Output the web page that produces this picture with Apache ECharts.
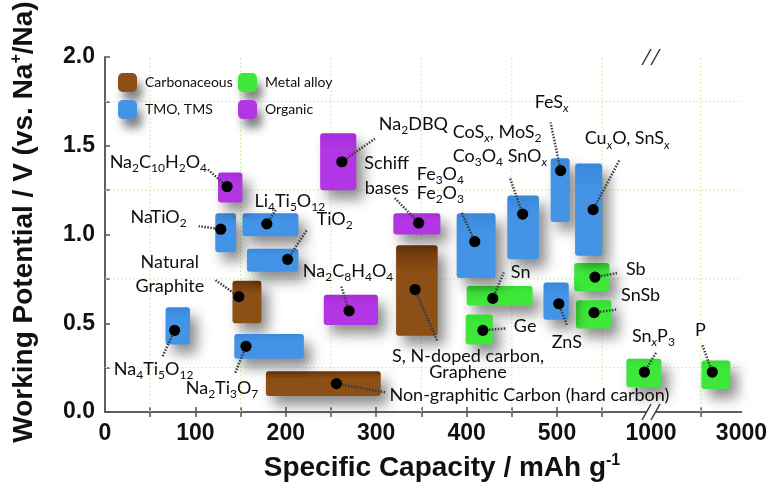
<!DOCTYPE html>
<html>
<head>
<meta charset="utf-8">
<script src="https://cdn.jsdelivr.net/npm/echarts@6/dist/echarts.min.js"></script>
<style>
  html, body { margin: 0; padding: 0; background: #fff; }
  #chart { width: 770px; height: 489px; }
</style>
</head>
<body>
<div id="chart"></div>
<script>
// ---- material classes ----
const groupNames = ['Carbonaceous', 'Metal alloy', 'TMO, TMS', 'Organic'];
const groupColors = ['#8c4f16', '#3de83a', '#4394e6', '#b236e4'];
const groupTops = ['#6a350b', '#34dc32', '#3a88dc', '#a82cd8'];

// ---- anode materials (rich-text markup: {s|..} subscript, {x|..} italic subscript) ----
const materials = [
  ['Na{s|2}C{s|10}H{s|2}O{s|4}'],
  ['NaTiO{s|2}'],
  ['Li{s|4}Ti{s|5}O{s|12}'],
  ['TiO{s|2}'],
  ['Natural', 'Graphite'],
  ['Na{s|4}Ti{s|5}O{s|12}'],
  ['Na{s|2}Ti{s|3}O{s|7}'],
  ['Non-graphitic Carbon (hard carbon)'],
  ['Na{s|2}C{s|8}H{s|4}O{s|4}'],
  ['Na{s|2}DBQ'],
  ['Schiff', 'bases'],
  ['S, N-doped carbon,', 'Graphene'],
  ['Fe{s|3}O{s|4}', 'Fe{s|2}O{s|3}'],
  ['CoS{x|x}, MoS{s|2}', 'Co{s|3}O{s|4} SnO{x|x}'],
  ['FeS{x|x}'],
  ['Cu{x|x}O, SnS{x|x}'],
  ['Sn'],
  ['Ge'],
  ['ZnS'],
  ['Sb'],
  ['SnSb'],
  ['Sn{x|x}P{s|3}'],
  ['P']
];
const materialGroup = [3, 2, 2, 2, 0, 2, 2, 0, 3, 3, 3, 0, 2, 2, 2, 2, 1, 1, 2, 1, 1, 1, 1];

// specific capacity range and typical value, mAh/g
const capLow  = [125, 122, 152, 157, 141,  67, 143, 178, 242, 238, 319, 322, 389, 445, 493, 520, 400, 399, 485, 519, 521, 773, 2016];
const capHigh = [152, 145, 214, 214, 173,  94, 220, 305, 302, 278, 371, 368, 432, 480, 514, 550, 473, 429, 513, 617, 635, 1209, 2727];
const capMid  = [135, 128, 179, 202, 148,  77, 156, 256, 270, 262, 347, 343, 409, 462, 504, 540, 429, 418, 502, 542, 541, 939, 2284];

// working potential range and typical value, V vs. Na+/Na
const potLow  = [1.18, 0.90, 0.99, 0.79, 0.50, 0.38, 0.30, 0.09, 0.49, 1.25, 1.00, 0.43, 0.755, 0.86, 1.07, 0.88, 0.60, 0.38, 0.52, 0.68, 0.47, 0.14, 0.13];
const potHigh = [1.35, 1.12, 1.12, 0.92, 0.74, 0.59, 0.44, 0.23, 0.66, 1.57, 1.12, 0.94, 1.12, 1.22, 1.43, 1.40, 0.71, 0.55, 0.73, 0.84, 0.63, 0.30, 0.29];
const potMid  = [1.27, 1.03, 1.06, 0.86, 0.65, 0.46, 0.37, 0.16, 0.57, 1.41, 1.065, 0.69, 0.96, 1.115, 1.36, 1.14, 0.64, 0.46, 0.61, 0.76, 0.56, 0.225, 0.225];

// ---- axis definitions ----
const capTicks = [50, 100, 150, 200, 250, 300, 350, 400, 450, 500, 550, 2000];
const capLabels = [0, 100, 200, 300, 400, 500, 1000, 3000];
const capGrid = [50, 150, 250, 350, 450, 550, 2000];
const potGrid = [0.25, 0.75, 1.25, 1.75];

// broken capacity axis: piecewise-linear map from capacity to axis position
const capKnots  = [0, 550, 1000, 2000, 3000];
const axisKnots = [0, 550, 604, 659, 704];
function capToAxis(c) {
  for (let k = 1; k < capKnots.length; k++) {
    if (c <= capKnots[k] || k === capKnots.length - 1) {
      const t = (c - capKnots[k - 1]) / (capKnots[k] - capKnots[k - 1]);
      return axisKnots[k - 1] + t * (axisKnots[k] - axisKnots[k - 1]);
    }
  }
}

// callout layout per material (pixels from the marker):
// [leader dx, leader dy, text dx, first-line dy, align, line step]
const callouts = [
  [-19, -17, -20, -24, 'right', 0],
  [-22, -3, -34, -12, 'right', 0],
  [9, -14, 23, -23, 'center', 0],
  [19, -29, 29, -40, 'left', 0],
  [-24, -17, -69, -34, 'center', 24],
  [-12, 26, -21, 39, 'center', 0],
  [-11, 27, -24, 42, 'center', 0],
  [50, 9, 53, 12, 'left', 0],
  [-8, -25, -1, -40, 'center', 0],
  [33, -23, 37, -38, 'left', 0],
  [-24, -25, -32, -60, 'center', 25],
  [22, 51, 53, 67, 'center', 16],
  [-13, -29, -58, -67, 'left', 19],
  [-13, -37, -70, -82, 'left', 24],
  [-10, -48, -9, -68, 'center', 0],
  [26, -49, 34, -71, 'center', 0],
  [11, -26, 18, -26, 'left', 0],
  [23, -2, 31, -4, 'left', 0],
  [8, 21, 8, 38, 'center', 0],
  [22, -4, 31, -8, 'left', 0],
  [22, -3, 27, -17, 'left', 0],
  [12, -20, 9, -36, 'center', 0],
  [-10, -27, -12, -42, 'center', 0]
];

const LABEL_FONT = 'Lato';
const labelRich = {
  s: { fontSize: 12, lineHeight: 12, padding: [12, 0, 0, 0], fontFamily: LABEL_FONT, fill: '#0e0e0e' },
  x: { fontSize: 12, lineHeight: 12, padding: [12, 0, 0, 0], fontFamily: LABEL_FONT, fontStyle: 'italic', fill: '#0e0e0e' }
};

const AXIS_FONT = 'Liberation Sans';
const axisColor = '#555';

const chart = echarts.init(document.getElementById('chart'), null, { renderer: 'canvas' });

function boxSeries(g) {
  const idx = materials.map((m, i) => i).filter(i => materialGroup[i] === g);
  return {
    type: 'custom',
    name: groupNames[g],
    coordinateSystem: 'cartesian2d',
    itemStyle: { color: groupColors[g] },
    z: 3,
    data: idx.map(i => [capToAxis(capLow[i]), capToAxis(capHigh[i]), potLow[i], potHigh[i]]),
    encode: { x: [0, 1], y: [2, 3] },
    renderItem: (params, api) => {
      const a = api.coord([api.value(0), api.value(3)]);
      const b = api.coord([api.value(1), api.value(2)]);
      return {
        type: 'rect',
        shape: { x: a[0], y: a[1], width: b[0] - a[0], height: b[1] - a[1], r: 3 },
        style: {
          fill: new echarts.graphic.LinearGradient(0, 0, 0, 1, [
            { offset: 0, color: groupTops[g] },
            { offset: 0.3, color: groupColors[g] },
            { offset: 1, color: groupColors[g] }
          ]),
          shadowBlur: 13,
          shadowColor: 'rgba(0,0,0,0.45)',
          shadowOffsetX: 7,
          shadowOffsetY: 9
        }
      };
    }
  };
}

const markerSeries = {
  type: 'custom',
  name: 'markers',
  coordinateSystem: 'cartesian2d',
  z: 6,
  data: materials.map((m, i) => [capToAxis(capMid[i]), potMid[i], i]),
  encode: { x: 0, y: 1 },
  renderItem: (params, api) => {
    const i = api.value(2);
    const p = api.coord([api.value(0), api.value(1)]);
    const c = callouts[i];
    const children = [
      {
        type: 'line',
        shape: { x1: p[0], y1: p[1], x2: p[0] + c[0], y2: p[1] + c[1] },
        style: { stroke: '#3c3c3c', lineWidth: 2.5, lineDash: [1.5, 1.5] }
      },
      { type: 'circle', shape: { cx: p[0], cy: p[1], r: 5.6 }, style: { fill: '#000' } }
    ];
    materials[i].forEach((line, k) => {
      children.push({
        type: 'text',
        x: p[0] + c[2],
        y: p[1] + c[3] + k * c[5],
        style: {
          text: line,
          fontFamily: LABEL_FONT,
          fontSize: 18,
          lineHeight: 24,
          fill: '#0e0e0e',
          align: c[4],
          verticalAlign: 'middle',
          rich: labelRich
        }
      });
    });
    return { type: 'group', children };
  }
};

const gridSeries = {
  type: 'custom',
  name: 'grid',
  coordinateSystem: 'cartesian2d',
  z: 1,
  silent: true,
  data: capGrid.map(c => [capToAxis(c), 0, 0]).concat(potGrid.map(v => [0, v, 1])),
  encode: { x: 0, y: 1 },
  renderItem: (params, api) => {
    let a, b;
    if (api.value(2) === 0) {
      a = api.coord([api.value(0), 0]);
      b = api.coord([api.value(0), 2]);
    } else {
      a = api.coord([0, api.value(1)]);
      b = api.coord([704, api.value(1)]);
    }
    return {
      type: 'line',
      shape: { x1: a[0], y1: a[1], x2: b[0], y2: b[1] },
      style: { stroke: '#cdf1aa', lineWidth: 1, lineDash: [2, 2] }
    };
  }
};

function capLabelFor(v) {
  for (const c of capLabels) {
    if (Math.abs(capToAxis(c) - v) < 0.01) return String(c);
  }
  return '';
}

const legendCommon = {
  orient: 'vertical',
  top: 68,
  itemWidth: 19,
  itemHeight: 19,
  itemGap: 8,
  icon: 'roundRect',
  selectedMode: false,
  textStyle: { fontFamily: LABEL_FONT, fontSize: 14, color: '#0e0e0e', padding: [0, 0, 0, 3] },
  itemStyle: { shadowBlur: 10, shadowColor: 'rgba(0,0,0,0.5)', shadowOffsetX: 5, shadowOffsetY: 9 }
};

chart.setOption({
  animation: false,
  backgroundColor: '#fff',
  grid: { left: 105, right: 27, top: 57, bottom: 77, containLabel: false },
  legend: [
    Object.assign({ left: 113, data: ['Carbonaceous', 'TMO, TMS'] }, legendCommon),
    Object.assign({ left: 233, data: ['Metal alloy', 'Organic'] }, legendCommon)
  ],
  xAxis: [
    {
      type: 'value', min: 0, max: 704, position: 'bottom',
      axisLine: { show: true, lineStyle: { color: axisColor, width: 1.5 } },
      axisTick: { show: true, inside: true, length: 5, customValues: capTicks.map(capToAxis), lineStyle: { color: axisColor, width: 1.5 } },
      axisLabel: {
        customValues: capLabels.map(capToAxis),
        formatter: capLabelFor,
        margin: 10,
        fontFamily: AXIS_FONT, fontWeight: 'bold', fontSize: 23, color: '#111'
      },
      splitLine: { show: false }
    },
    {
      type: 'value', min: 0, max: 704, position: 'top',
      axisLine: { show: true, lineStyle: { color: axisColor, width: 1.5 } },
      axisTick: { show: true, inside: true, length: 5, customValues: capTicks.map(capToAxis), lineStyle: { color: axisColor, width: 1.5 } },
      axisLabel: { show: false },
      splitLine: { show: false }
    }
  ],
  yAxis: [
    {
      type: 'value', min: 0, max: 2, interval: 0.25, position: 'left',
      axisLine: { show: true, lineStyle: { color: axisColor, width: 1.5 } },
      axisTick: { show: true, inside: true, length: 5, lineStyle: { color: axisColor, width: 1.5 } },
      axisLabel: {
        formatter: v => (Math.abs(v * 2 - Math.round(v * 2)) < 1e-6 ? v.toFixed(1) : ''),
        margin: 10,
        fontFamily: AXIS_FONT, fontWeight: 'bold', fontSize: 23, color: '#111'
      },
      splitLine: { show: false }
    },
    {
      type: 'value', min: 0, max: 2, position: 'right',
      axisLine: { show: true, lineStyle: { color: axisColor, width: 1.5 } },
      axisTick: { show: false },
      axisLabel: { show: false },
      splitLine: { show: false }
    }
  ],
  series: [gridSeries, boxSeries(0), boxSeries(1), boxSeries(2), boxSeries(3), markerSeries]
});

// axis titles and the break marks on the capacity axis
const breakX = chart.convertToPixel({ xAxisIndex: 0 }, capToAxis(1000));
const topY = chart.convertToPixel({ yAxisIndex: 0 }, 2);
const botY = chart.convertToPixel({ yAxisIndex: 0 }, 0);

function breakMark(y) {
  return [
    { type: 'rect', shape: { x: breakX - 5, y: y - 2, width: 10, height: 4 }, style: { fill: '#fff' }, z: 20 },
    { type: 'line', shape: { x1: breakX - 9, y1: y + 8, x2: breakX, y2: y - 8 }, style: { stroke: '#333', lineWidth: 1.5 }, z: 21 },
    { type: 'line', shape: { x1: breakX, y1: y + 8, x2: breakX + 9, y2: y - 8 }, style: { stroke: '#333', lineWidth: 1.5 }, z: 21 }
  ];
}

const titleRich = {
  sup: { fontFamily: AXIS_FONT, fontWeight: 'bold', fontSize: 16, lineHeight: 16, padding: [0, 0, 14, 0], fill: '#111' }
};

chart.setOption({
  graphic: [
    ...breakMark(topY),
    ...breakMark(botY),
    {
      type: 'text', x: 442, y: 468, z: 20,
      style: {
        text: 'Specific Capacity / mAh g{sup|-1}',
        fontFamily: AXIS_FONT, fontWeight: 'bold', fontSize: 28, lineHeight: 30,
        fill: '#111', align: 'center', verticalAlign: 'middle', rich: titleRich
      }
    },
    {
      type: 'text', x: 24, y: 222, rotation: Math.PI / 2, z: 20,
      style: {
        text: 'Working Potential / V (vs. Na{sup|+}/Na)',
        fontFamily: AXIS_FONT, fontWeight: 'bold', fontSize: 28, lineHeight: 30,
        fill: '#111', align: 'center', verticalAlign: 'middle', rich: titleRich
      }
    }
  ]
});
</script>
</body>
</html>
